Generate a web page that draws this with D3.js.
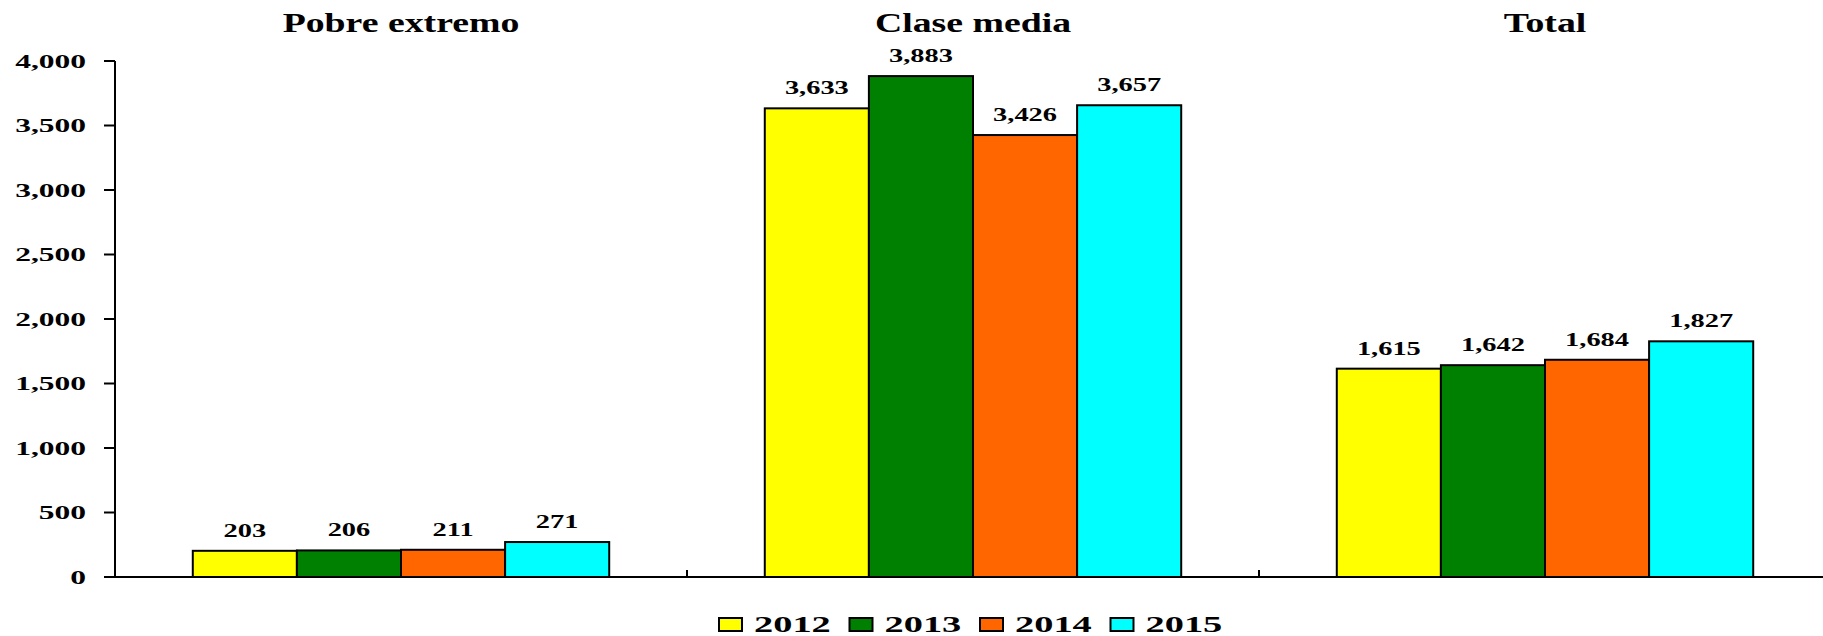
<!DOCTYPE html>
<html>
<head>
<meta charset="utf-8">
<script src="https://cdn.jsdelivr.net/npm/d3@7"></script>
<style>
  html, body { margin: 0; padding: 0; background: #fff; }
  svg text { font-family: "Liberation Serif", "Times New Roman", serif; font-weight: bold; fill: #000; }
</style>
</head>
<body>
<div id="chart"></div>
<script>
// chart data
const categories = ['Pobre extremo', 'Clase media', 'Total'];
const years = ['2012', '2013', '2014', '2015'];
const values2012 = [203, 3633, 1615];
const values2013 = [206, 3883, 1642];
const values2014 = [211, 3426, 1684];
const values2015 = [271, 3657, 1827];
const yTickValues = [0, 500, 1000, 1500, 2000, 2500, 3000, 3500, 4000];
const colors = ['#ffff00', '#008000', '#ff6600', '#00ffff'];

(() => {
	const width = 1823;
	const height = 636;

	const svg = d3.select('#chart')
		.append('svg')
		.attr('width', width)
		.attr('height', height);

	const series = [values2012, values2013, values2014, values2015];
	const rows = categories.map((c, i) => ({
		cat: c,
		vals: years.map((yr, j) => ({ yr, v: series[j][i], color: colors[j] }))
	}));

	const axisX = 115;
	const x0 = d3.scaleBand()
		.domain(categories)
		.range([axisX, axisX + 3 * 572])
		.paddingInner(0.272)
		.paddingOuter(0.136);

	const x1 = d3.scaleBand()
		.domain(years)
		.range([0, x0.bandwidth()]);

	const y = d3.scaleLinear()
		.domain([0, 4000])
		.range([577, 61]);

	// text in the picture is stretched sideways, so scale it
	function stretched(parent, px, py, sx, size, anchor, str) {
		return parent.append('text')
			.attr('transform', `translate(${px},${py}) scale(${sx},1)`)
			.attr('text-anchor', anchor)
			.attr('font-size', size)
			.text(str);
	}

	// y axis
	const yAxisG = svg.append('g');
	yAxisG.append('line')
		.attr('x1', axisX).attr('x2', axisX)
		.attr('y1', y(4000)).attr('y2', y(0))
		.attr('stroke', '#000').attr('stroke-width', 2);
	yTickValues.forEach(t => {
		yAxisG.append('line')
			.attr('x1', axisX - 11).attr('x2', axisX)
			.attr('y1', y(t)).attr('y2', y(t))
			.attr('stroke', '#000').attr('stroke-width', 2);
		stretched(yAxisG, 86, y(t) + 6.5, 1.75, 18, 'end', d3.format(',')(t));
	});

	// bars
	const groups = svg.append('g')
		.selectAll('g')
		.data(rows)
		.join('g')
		.attr('transform', d => `translate(${x0(d.cat)},0)`);

	groups.selectAll('rect')
		.data(d => d.vals)
		.join('rect')
		.attr('x', d => x1(d.yr))
		.attr('y', d => y(d.v))
		.attr('width', x1.bandwidth())
		.attr('height', d => y(0) - y(d.v))
		.attr('fill', d => d.color)
		.attr('stroke', '#000')
		.attr('stroke-width', 2);

	groups.each(function (d) {
		const g = d3.select(this);
		d.vals.forEach(b => {
			stretched(g, x1(b.yr) + x1.bandwidth() / 2, y(b.v) - 14, 1.58, 18, 'middle', d3.format(',')(b.v));
		});
	});

	// x axis line and category separators
	svg.append('line')
		.attr('x1', axisX - 11).attr('x2', width)
		.attr('y1', y(0)).attr('y2', y(0))
		.attr('stroke', '#000').attr('stroke-width', 2);
	categories.slice(0, -1).forEach(c => {
		const bx = x0(c) + x0.bandwidth() + x0.step() * x0.paddingInner() / 2;
		svg.append('line')
			.attr('x1', bx).attr('x2', bx)
			.attr('y1', y(0)).attr('y2', y(0) - 7)
			.attr('stroke', '#000').attr('stroke-width', 2);
	});

	// category titles
	categories.forEach(c => {
		stretched(svg, x0(c) + x0.bandwidth() / 2, 31.5, 1.4, 27, 'middle', c);
	});

	// legend
	const legend = svg.append('g').attr('transform', 'translate(719,618)');
	years.forEach((yr, i) => {
		const lg = legend.append('g').attr('transform', `translate(${i * 130.5},0)`);
		lg.append('rect')
			.attr('width', 23).attr('height', 13)
			.attr('fill', colors[i])
			.attr('stroke', '#000').attr('stroke-width', 2);
		stretched(lg, 35, 14, 1.67, 23, 'start', yr);
	});
})();
</script>
</body>
</html>
